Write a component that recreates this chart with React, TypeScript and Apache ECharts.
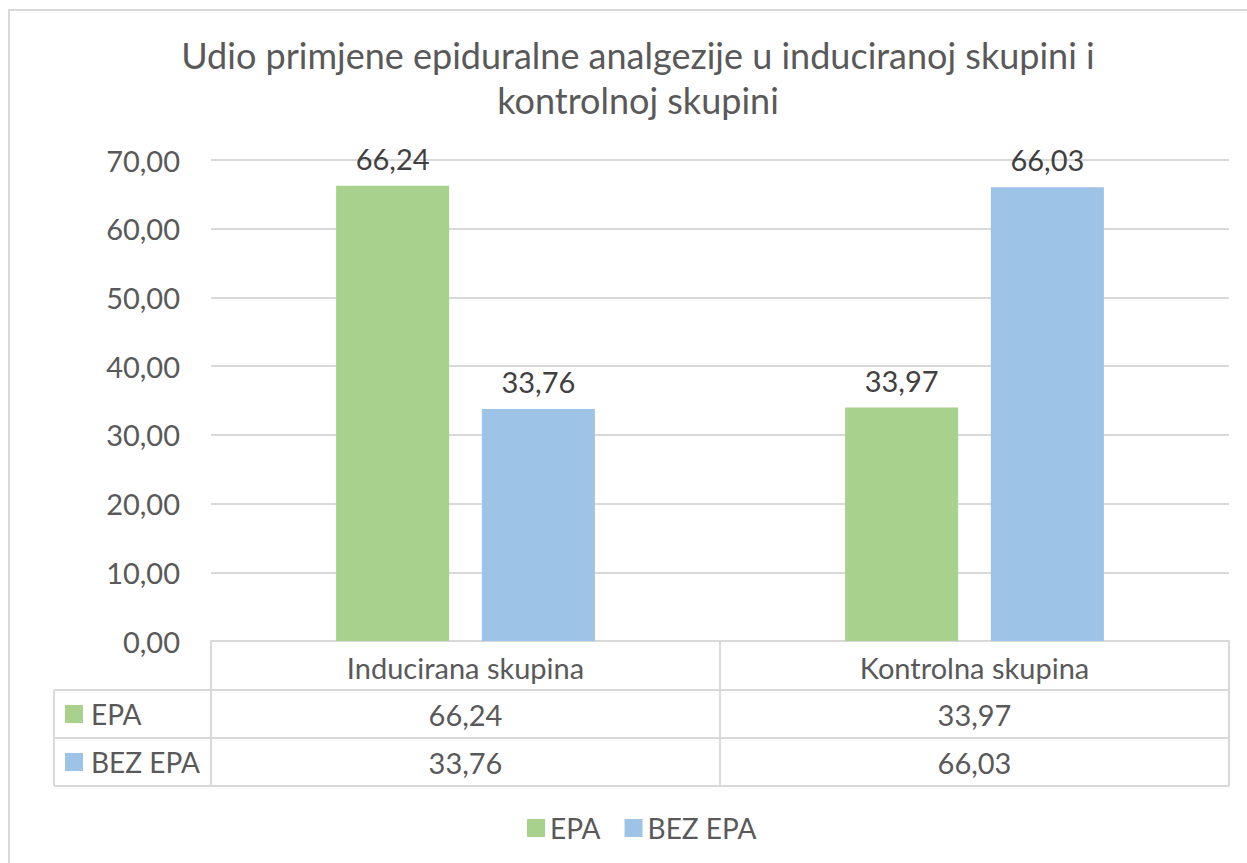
import React, { useEffect, useRef } from "react";
import * as echarts from "echarts";

const categories = ["Inducirana skupina", "Kontrolna skupina"];
const seriesNames = ["EPA", "BEZ EPA"];
const epaValues = [66.24, 33.97];
const bezEpaValues = [33.76, 66.03];
const seriesColors = ["#A9D18E", "#9DC3E6"];
const yTicks = { min: 0, max: 70, interval: 10 };
const titleText = "Udio primjene epiduralne analgezije u induciranoj skupini i\nkontrolnoj skupini";

const fmt = (v: number) => v.toFixed(2).replace(".", ",");

const FONT = "Lato, 'Open Sans', sans-serif";
const TEXT = "#595959";
const LINE = "#D9D9D9";

export default function App() {
  const ref = useRef<HTMLDivElement>(null);
  useEffect(() => {
    if (!ref.current) return;
    const chart = echarts.init(ref.current, undefined, { renderer: "svg" });
    const gridLeft = 211;
    const gridRight = 1247 - 1229;
    const gridTop = 160;
    const gridBottom = 863 - 641;
    const allSeries = [epaValues, bezEpaValues];
    chart.setOption({
      animation: false,
      backgroundColor: "#fff",
      textStyle: { fontFamily: FONT },
      title: {
        text: titleText,
        left: 633,
        textAlign: "center",
        top: 27,
        textStyle: { color: TEXT, fontSize: 36, fontWeight: "normal", fontFamily: FONT, lineHeight: 45 },
      },
      legend: {
        left: 522,
        top: 809,
        itemWidth: 18,
        itemHeight: 18,
        itemGap: 24,
        icon: "rect",
        textStyle: { color: TEXT, fontSize: 28, fontFamily: FONT },
        data: seriesNames,
      },
      grid: { left: gridLeft, right: gridRight, top: gridTop, bottom: gridBottom, containLabel: false },
      xAxis: {
        type: "category",
        data: categories,
        axisLine: { show: true, lineStyle: { color: LINE, width: 2 } },
        axisTick: { show: true, length: 145, lineStyle: { color: LINE, width: 2 } },
        axisLabel: { color: TEXT, fontSize: 29, margin: 12, fontFamily: FONT },
      },
      yAxis: {
        type: "value",
        min: yTicks.min,
        max: yTicks.max,
        interval: yTicks.interval,
        axisLine: { show: false },
        axisTick: { show: false },
        splitLine: { lineStyle: { color: LINE, width: 2 } },
        axisLabel: { color: TEXT, fontSize: 29, margin: 31, fontFamily: FONT, formatter: (v: number) => fmt(v) },
      },
      series: seriesNames.map((name, i) => ({
        name,
        type: "bar",
        data: allSeries[i],
        barWidth: 113,
        barGap: "29%",
        itemStyle: { color: seriesColors[i] },
        label: {
          show: true,
          position: "top",
          distance: 13,
          color: "#404040",
          fontSize: 29,
          fontFamily: FONT,
          formatter: (p: any) => fmt(p.value),
        },
      })),
    });

    // Data table under the axis
    const rowTop = 690;
    const rowH = 48;
    const tableLeft = 54;
    const tableRight = 1229;
    const graphics: any[] = [];
    graphics.push({
      type: "rect",
      shape: { x: 9, y: 10, width: 1300, height: 900 },
      style: { fill: "none", stroke: LINE, lineWidth: 2 },
      silent: true,
    });
    for (let r = 0; r <= seriesNames.length; r++) {
      const y = rowTop + r * rowH;
      graphics.push({
        type: "line",
        shape: { x1: tableLeft, y1: y, x2: tableRight, y2: y },
        style: { stroke: LINE, lineWidth: 2 },
      });
    }
    graphics.push({
      type: "line",
      shape: { x1: tableLeft, y1: rowTop, x2: tableLeft, y2: rowTop + rowH * seriesNames.length },
      style: { stroke: LINE, lineWidth: 2 },
    });
    seriesNames.forEach((name, r) => {
      const cy = rowTop + r * rowH + rowH / 2;
      graphics.push({
        type: "rect",
        shape: { x: 65, y: cy - 9, width: 18, height: 18 },
        style: { fill: seriesColors[r] },
      });
      graphics.push({
        type: "text",
        x: 91,
        y: cy,
        style: { text: name, fill: TEXT, fontSize: 28, fontFamily: FONT, verticalAlign: "middle", align: "left" },
      });
      allSeries[r].forEach((v, c) => {
        const px = chart.convertToPixel({ xAxisIndex: 0 }, c) as number;
        graphics.push({
          type: "text",
          x: px,
          y: cy,
          style: { text: fmt(v), fill: TEXT, fontSize: 29, fontFamily: FONT, verticalAlign: "middle", align: "center" },
        });
      });
    });
    chart.setOption({ graphic: graphics });
    return () => chart.dispose();
  }, []);
  return (
    <div
      ref={ref}
      style={{ position: "absolute", left: 0, top: 0, width: 1247, height: 863 }}
    />
  );
}
